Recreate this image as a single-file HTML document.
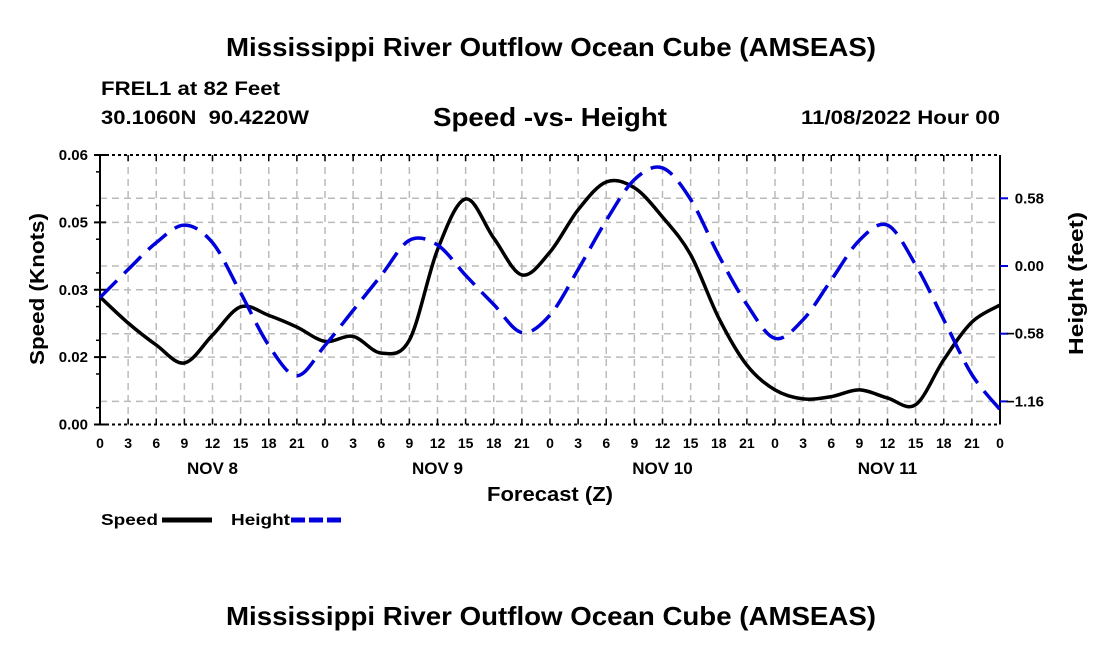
<!DOCTYPE html>
<html><head><meta charset="utf-8"><style>
body{margin:0;background:#fff;}
svg text{font-family:"Liberation Sans",sans-serif;font-weight:bold;fill:#000;}
</style></head><body>
<svg width="1100" height="650" xmlns="http://www.w3.org/2000/svg">
<text x="226" y="56" font-size="26" textLength="650" lengthAdjust="spacingAndGlyphs">Mississippi River Outflow Ocean Cube (AMSEAS)</text>
<text x="101" y="95" font-size="19" textLength="179" lengthAdjust="spacingAndGlyphs">FREL1 at 82 Feet</text>
<text x="101" y="124" font-size="19" xml:space="preserve" textLength="208" lengthAdjust="spacingAndGlyphs">30.1060N  90.4220W</text>
<text x="433" y="126" font-size="26" textLength="234" lengthAdjust="spacingAndGlyphs">Speed -vs- Height</text>
<text x="801" y="124" font-size="19" textLength="199" lengthAdjust="spacingAndGlyphs">11/08/2022 Hour 00</text>
<g id="grid"></g>
<g id="axes"></g>
<g id="series"></g>
<text x="487" y="501" font-size="20" textLength="126" lengthAdjust="spacingAndGlyphs">Forecast (Z)</text>
<text transform="translate(44,365) rotate(-90)" font-size="20" textLength="152" lengthAdjust="spacingAndGlyphs">Speed (Knots)</text>
<text transform="translate(1083,355) rotate(-90)" font-size="20" textLength="143" lengthAdjust="spacingAndGlyphs">Height (feet)</text>
<g><text x="101" y="525" font-size="16" textLength="57" lengthAdjust="spacingAndGlyphs">Speed</text><line x1="162" y1="520" x2="212" y2="520" stroke="#000" stroke-width="5"/></g>
<g><text x="231" y="525" font-size="16" textLength="59" lengthAdjust="spacingAndGlyphs">Height</text><line x1="291" y1="520" x2="342" y2="520" stroke="#0000dd" stroke-width="5" stroke-dasharray="14,4"/></g>
<text x="226" y="625" font-size="26" textLength="650" lengthAdjust="spacingAndGlyphs">Mississippi River Outflow Ocean Cube (AMSEAS)</text>
</svg>
<script>
const hours=[0,3,6,9,12,15,18,21,24,27,30,33,36,39,42,45,48,51,54,57,60,63,66,69,72,75,78,81,84,87,90,93,96];
const speed=[0.0284,0.0226,0.0177,0.0137,0.0199,0.0262,0.0243,0.0217,0.0185,0.0196,0.0159,0.0188,0.0389,0.0502,0.0415,0.0333,0.0384,0.0478,0.0540,0.0527,0.0462,0.0378,0.0237,0.0132,0.0077,0.0057,0.0062,0.0077,0.0059,0.0044,0.0144,0.0228,0.0266];
const height=[-0.27,-0.03,0.20,0.35,0.20,-0.23,-0.68,-0.94,-0.68,-0.38,-0.08,0.22,0.18,-0.08,-0.33,-0.57,-0.42,-0.03,0.39,0.74,0.84,0.57,0.09,-0.33,-0.62,-0.46,-0.12,0.22,0.35,0.01,-0.46,-0.93,-1.23];
const xTicks=[0,3,6,9,12,15,18,21,0,3,6,9,12,15,18,21,0,3,6,9,12,15,18,21,0,3,6,9,12,15,18,21,0];
const dayLabels=["NOV 8","NOV 9","NOV 10","NOV 11"];
const leftTicks=[0,0.015,0.03,0.045,0.06];
const leftLabels=["0.00","0.02","0.03","0.05","0.06"];
const rightTicks=[0.58,0,-0.58,-1.16];
const NS="http://www.w3.org/2000/svg";
const X0=100,X1=1000,YT=155,YB=424.5;
const xs=h=>X0+h*(X1-X0)/96;
const ys=v=>YB-v*(YB-YT)/0.06;
const yh=v=>266-v*67.7/0.58;
function mk(tag,attrs,parent){const e=document.createElementNS(NS,tag);for(const k in attrs)e.setAttribute(k,attrs[k]);parent.appendChild(e);return e;}
const grid=document.getElementById('grid'),axes=document.getElementById('axes'),ser=document.getElementById('series');
for(let i=1;i<32;i++){const l=mk('line',{x1:xs(i*3),x2:xs(i*3),y1:YT,y2:YB,stroke:'#bbb','stroke-width':1.5,'stroke-dasharray':'7,5'},grid);

}
const hy=[...leftTicks.slice(1,4).map(ys),...rightTicks.map(yh)];
hy.forEach(y=>{const l=mk('line',{x1:X0,x2:X1,y1:y,y2:y,stroke:'#bbb','stroke-width':1.5,'stroke-dasharray':'7,5'},grid);

});
mk('line',{x1:X0,x2:X0,y1:YT,y2:YB,stroke:'#000','stroke-width':2},axes);
mk('line',{x1:X1,x2:X1,y1:YT,y2:YB,stroke:'#000','stroke-width':2},axes);
mk('line',{x1:X0,x2:X1,y1:YT,y2:YT,stroke:'#000','stroke-width':2,'stroke-dasharray':'3,3'},axes);
mk('line',{x1:X0,x2:X1,y1:YB,y2:YB,stroke:'#000','stroke-width':2,'stroke-dasharray':'3,3'},axes);
xTicks.forEach((t,i)=>{const x=xs(i*3);
mk('line',{x1:x,x2:x,y1:YB,y2:YB-6,stroke:'#000','stroke-width':1.5},axes);
mk('line',{x1:x,x2:x,y1:YT,y2:YT+6,stroke:'#000','stroke-width':1.5},axes);
const tx=mk('text',{x:x,y:448,'font-size':14,'text-anchor':'middle'},axes);tx.textContent=t;

});
dayLabels.forEach((d,i)=>{const tx=mk('text',{x:xs(12+24*i),y:474,'font-size':17,'text-anchor':'middle'},axes);tx.textContent=d;

});
leftTicks.forEach((v,i)=>{const y=ys(v);mk('line',{x1:X0-6,x2:X0+6,y1:y,y2:y,stroke:'#000','stroke-width':2},axes);
const tx=mk('text',{x:88,y:y+5,'font-size':15,'text-anchor':'end'},axes);tx.textContent=leftLabels[i];

});
for(let i=0;i<8;i++){const y=ys(0.0075*i+0.00375);mk('line',{x1:X0-4,x2:X0,y1:y,y2:y,stroke:'#000','stroke-width':1.5},axes);}
rightTicks.forEach(v=>{const y=yh(v);mk('line',{x1:X1,x2:X1+8,y1:y,y2:y,stroke:'#0000dd','stroke-width':2},axes);
const tx=mk('text',{x:1044,y:y+5,'font-size':15,'text-anchor':'end'},axes);tx.textContent=v.toFixed(2).replace('-','\u2212');

});
function smooth(pts){let d=`M${pts[0][0]},${pts[0][1]}`;for(let i=0;i<pts.length-1;i++){const p0=pts[Math.max(0,i-1)],p1=pts[i],p2=pts[i+1],p3=pts[Math.min(pts.length-1,i+2)];
d+=` C${p1[0]+(p2[0]-p0[0])/6},${p1[1]+(p2[1]-p0[1])/6} ${p2[0]-(p3[0]-p1[0])/6},${p2[1]-(p3[1]-p1[1])/6} ${p2[0]},${p2[1]}`;}return d;}
const sp=mk('path',{d:smooth(hours.map((h,i)=>[xs(h),ys(speed[i])])),fill:'none',stroke:'#000','stroke-width':3.5},ser);


const hp=mk('path',{d:smooth(hours.map((h,i)=>[xs(h),yh(height[i])])),fill:'none',stroke:'#0000dd','stroke-width':3.5,'stroke-dasharray':'24,10'},ser);


</script>
</body></html>
